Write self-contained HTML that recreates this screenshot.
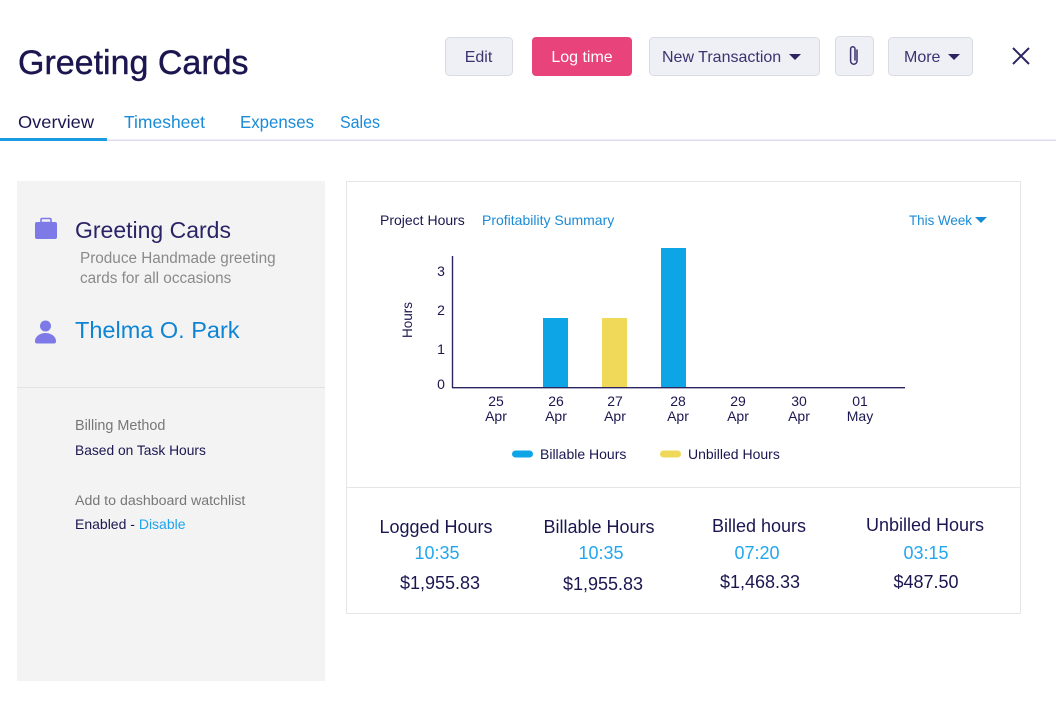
<!DOCTYPE html>
<html>
<head>
<meta charset="utf-8">
<style>
html,body{margin:0;padding:0;background:#fff;}
svg{display:block;font-family:"Liberation Sans",sans-serif;}
</style>
</head>
<body>
<svg width="1056" height="720" viewBox="0 0 1056 720" xmlns="http://www.w3.org/2000/svg">
  <rect x="0" y="0" width="1056" height="720" fill="#ffffff"/>

  <!-- Title -->
  <text x="18" y="74" font-size="34" fill="#1b1650" stroke="#1b1650" stroke-width="0.4">Greeting Cards</text>

  <!-- Buttons -->
  <rect x="445.5" y="37.5" width="67" height="38" rx="4" fill="#eff0f5" stroke="#d9dbe4"/>
  <text x="478.5" y="62" font-size="16" fill="#3a3370" text-anchor="middle">Edit</text>

  <rect x="532" y="37" width="100" height="39" rx="4" fill="#e8437a"/>
  <text x="582" y="62" font-size="16" fill="#ffffff" text-anchor="middle">Log time</text>

  <rect x="649.5" y="37.5" width="170" height="38" rx="4" fill="#eff0f5" stroke="#d9dbe4"/>
  <text x="662" y="62" font-size="16" fill="#3a3370">New Transaction</text>
  <path d="M789,54 L801,54 L795,60 Z" fill="#2a2560"/>

  <rect x="835.5" y="36.5" width="38" height="39" rx="4" fill="#eff0f5" stroke="#d9dbe4"/>
  <path d="M857,50 V61 a3.2,3.2 0 0 1 -6.4,0 V49 a2.2,2.2 0 0 1 4.4,0 V60" fill="none" stroke="#3a3370" stroke-width="1.5" stroke-linecap="round"/>

  <rect x="888.5" y="37.5" width="84" height="38" rx="4" fill="#eff0f5" stroke="#d9dbe4"/>
  <text x="904" y="62" font-size="16" fill="#3a3370">More</text>
  <path d="M948,54 L960,54 L954,60 Z" fill="#2a2560"/>

  <path d="M1013,48 L1029,64 M1029,48 L1013,64" stroke="#2a2560" stroke-width="2"/>

  <!-- Tabs -->
  <text x="18" y="128" font-size="17.5" fill="#1b1650" textLength="76" lengthAdjust="spacingAndGlyphs">Overview</text>
  <text x="124" y="128" font-size="17.5" fill="#1a8bd6" textLength="81" lengthAdjust="spacingAndGlyphs">Timesheet</text>
  <text x="240" y="128" font-size="17.5" fill="#1a8bd6" textLength="74" lengthAdjust="spacingAndGlyphs">Expenses</text>
  <text x="340" y="128" font-size="17.5" fill="#1a8bd6" textLength="40" lengthAdjust="spacingAndGlyphs">Sales</text>
  <rect x="0" y="139.5" width="1056" height="1.5" fill="#dedcf0"/>
  <rect x="0" y="138" width="107" height="3" fill="#1a9be2"/>

  <!-- Left panel -->
  <rect x="17" y="181" width="308" height="500" fill="#f3f3f3"/>
  <rect x="17" y="387" width="308" height="1" fill="#e2e2e2"/>

  <rect x="35" y="222" width="22" height="17" rx="2" fill="#7d7ae8"/>
  <rect x="41" y="218.5" width="10" height="4" rx="1" fill="none" stroke="#7d7ae8" stroke-width="1.6"/>
  <text x="75" y="238" font-size="23" fill="#2a2466">Greeting Cards</text>
  <text x="80" y="263" font-size="15.3" fill="#8a8a8a">Produce Handmade greeting</text>
  <text x="80" y="283" font-size="15.3" fill="#8a8a8a">cards for all occasions</text>

  <circle cx="45.5" cy="326" r="5.5" fill="#7d7ae8"/>
  <path d="M35,341 a10.5,8 0 0 1 21,0 a2,2 0 0 1 -2,2.5 H37 a2,2 0 0 1 -2,-2.5 Z" fill="#7d7ae8"/>
  <text x="75" y="338" font-size="23.5" fill="#0f84d4">Thelma O. Park</text>

  <text x="75" y="430" font-size="14.4" fill="#777777">Billing Method</text>
  <text x="75" y="455" font-size="13.8" fill="#1b1650">Based on Task Hours</text>
  <text x="75" y="505" font-size="14.2" fill="#777777">Add to dashboard watchlist</text>
  <text x="75" y="529" font-size="14" fill="#1b1650">Enabled - <tspan fill="#1ea3ee">Disable</tspan></text>

  <!-- Right panel -->
  <rect x="346.5" y="181.5" width="674" height="432" fill="#ffffff" stroke="#e6e6e6"/>
  <rect x="347" y="487" width="673" height="1" fill="#e6e6e6"/>

  <text x="380" y="225" font-size="14" fill="#1b1650">Project Hours</text>
  <text x="482" y="225" font-size="14" fill="#1a8bd6">Profitability Summary</text>
  <text x="909" y="225" font-size="13.5" fill="#1a8bd6" textLength="63" lengthAdjust="spacingAndGlyphs">This Week</text>
  <path d="M975,217 L987,217 L981,223 Z" fill="#1a8bd6"/>

  <!-- Chart -->
  <text transform="translate(412,320) rotate(-90)" font-size="13.5" fill="#1b1650" text-anchor="middle">Hours</text>
  <g font-size="14" fill="#1b1650" text-anchor="middle">
    <text x="441" y="276">3</text>
    <text x="441" y="315">2</text>
    <text x="441" y="354">1</text>
    <text x="441" y="389">0</text>
  </g>
  <rect x="543" y="318" width="25" height="70" fill="#0ea5e6"/>
  <rect x="602" y="318" width="25" height="70" fill="#f0d859"/>
  <rect x="661" y="248" width="25" height="140" fill="#0ea5e6"/>
  <line x1="452.5" y1="256" x2="452.5" y2="388" stroke="#2a2560" stroke-width="1.4"/>
  <line x1="452" y1="387.7" x2="905" y2="387.7" stroke="#2a2560" stroke-width="1.4"/>

  <g font-size="14" fill="#1b1650" text-anchor="middle">
    <text x="496" y="406">25</text><text x="496" y="421">Apr</text>
    <text x="556" y="406">26</text><text x="556" y="421">Apr</text>
    <text x="615" y="406">27</text><text x="615" y="421">Apr</text>
    <text x="678" y="406">28</text><text x="678" y="421">Apr</text>
    <text x="738" y="406">29</text><text x="738" y="421">Apr</text>
    <text x="799" y="406">30</text><text x="799" y="421">Apr</text>
    <text x="860" y="406">01</text><text x="860" y="421">May</text>
  </g>

  <rect x="512" y="450.5" width="21" height="7" rx="3.5" fill="#0ea5e6"/>
  <text x="540" y="459" font-size="14" fill="#1b1650">Billable Hours</text>
  <rect x="660" y="450.5" width="21" height="7" rx="3.5" fill="#f0d859"/>
  <text x="688" y="459" font-size="14" fill="#1b1650">Unbilled Hours</text>

  <!-- Stats -->
  <g font-size="18" text-anchor="middle">
    <text x="436" y="533" fill="#1b1650">Logged Hours</text>
    <text x="437" y="559" fill="#22a7ef">10:35</text>
    <text x="440" y="589" fill="#1b1650">$1,955.83</text>

    <text x="599" y="533" fill="#1b1650">Billable Hours</text>
    <text x="601" y="559" fill="#22a7ef">10:35</text>
    <text x="603" y="590" fill="#1b1650">$1,955.83</text>

    <text x="759" y="532" fill="#1b1650">Billed hours</text>
    <text x="757" y="559" fill="#22a7ef">07:20</text>
    <text x="760" y="588" fill="#1b1650">$1,468.33</text>

    <text x="925" y="531" fill="#1b1650">Unbilled Hours</text>
    <text x="926" y="559" fill="#22a7ef">03:15</text>
    <text x="926" y="588" fill="#1b1650">$487.50</text>
  </g>
</svg>
</body>
</html>
